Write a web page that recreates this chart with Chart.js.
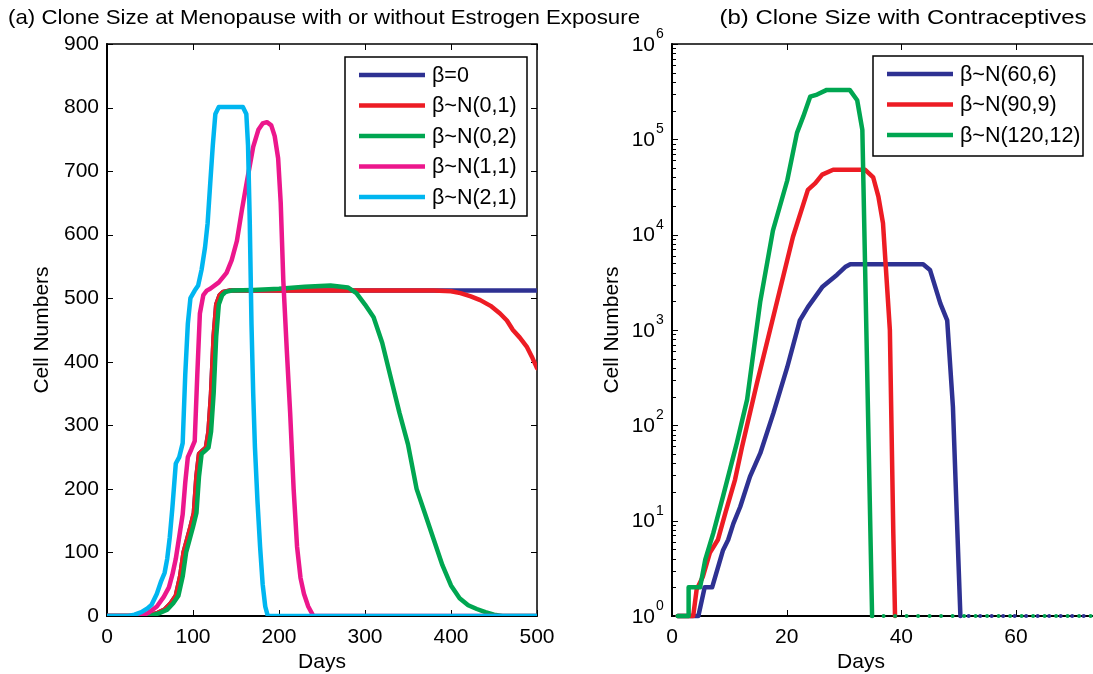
<!DOCTYPE html>
<html>
<head>
<meta charset="utf-8">
<script src="https://cdn.jsdelivr.net/npm/chart.js@4.4.1/dist/chart.umd.min.js"></script>
<style>
  html, body { margin: 0; padding: 0; background: #fff; overflow: hidden; }
  #wrap { position: relative; width: 1093px; height: 674px; overflow: hidden; }
  canvas { position: absolute; top: 0; }
  #left { left: 0; }
  #right { left: 560px; }
</style>
</head>
<body>
<div id="wrap">
  <canvas id="left" width="660" height="674"></canvas>
  <canvas id="right" width="550" height="674"></canvas>
</div>
<script>
// ---- (a) clone size at menopause ----
const menoLabels = ["β=0", "β~N(0,1)", "β~N(0,2)", "β~N(1,1)", "β~N(2,1)"];
const menoColors = ["#2e3192", "#ed1c24", "#00a651", "#ec178c", "#00b6f0"];
const menoDayTicks = [0, 100, 200, 300, 400, 500];
const menoCellTicks = [0, 100, 200, 300, 400, 500, 600, 700, 800, 900];

const daysB0 = [0, 42, 52, 59, 67, 74, 80, 85, 89, 93, 97, 101, 104, 107, 111, 115, 118, 121, 124, 127, 131, 135, 142, 500];
const cellsB0 = [0, 0, 2, 5, 10, 20, 32, 62, 100, 120, 140, 162, 220, 255, 260, 265, 290, 350, 440, 490, 505, 510, 512, 512];

const daysN01 = [0, 42, 52, 59, 67, 74, 80, 85, 89, 93, 97, 101, 104, 107, 111, 115, 118, 121, 124, 127, 131, 135, 142, 200, 300, 380, 400, 411, 423, 434, 446, 457, 465, 472, 480, 488, 494, 500];
const cellsN01 = [0, 0, 2, 5, 10, 20, 32, 62, 100, 120, 140, 162, 220, 255, 260, 265, 290, 350, 440, 490, 505, 510, 512, 512, 512, 512, 511, 508, 503, 497, 488, 476, 465, 450, 438, 424, 408, 390];

const daysN02 = [0, 45, 55, 62, 70, 77, 83, 88, 92, 96, 100, 104, 107, 110, 114, 118, 121, 124, 127, 130, 134, 138, 145, 170, 200, 230, 260, 280, 290, 300, 310, 320, 330, 340, 350, 360, 370, 380, 390, 400, 410, 420, 430, 440, 450, 460, 500];
const cellsN02 = [0, 0, 2, 5, 10, 20, 32, 62, 100, 120, 140, 162, 220, 255, 260, 265, 290, 350, 440, 490, 505, 510, 512, 513, 515, 518, 520, 517, 508, 490, 470, 430, 375, 320, 270, 200, 160, 120, 80, 48, 28, 17, 11, 6, 2, 0, 0];

const daysN11 = [0, 40, 48, 58, 66, 72, 76, 80, 84, 88, 91, 94, 98, 102, 105, 108, 112, 116, 120, 130, 139, 145, 151, 157, 163, 170, 176, 181, 186, 191, 195, 199, 202, 205, 209, 213, 217, 221, 225, 229, 234, 240, 500];
const cellsN11 = [0, 0, 5, 15, 30, 45, 65, 90, 125, 160, 210, 250, 262, 275, 380, 476, 505, 512, 515, 525, 540, 560, 590, 640, 686, 738, 765, 775, 777, 772, 755, 720, 650, 528, 420, 319, 200, 109, 60, 35, 15, 0, 0];

const daysN21 = [0, 25, 32, 40, 47, 52, 58, 63, 67, 70, 73, 76, 80, 84, 88, 91, 94, 97, 102, 106, 110, 114, 117, 120, 123, 126, 130, 158, 162, 164, 166, 168, 170, 172, 175, 178, 181, 184, 187, 500];
const cellsN21 = [0, 0, 2, 6, 12, 18, 35, 55, 68, 90, 124, 170, 240, 250, 272, 380, 460, 500, 512, 520, 545, 580, 618, 680, 740, 790, 801, 801, 790, 740, 620, 460, 350, 266, 180, 109, 50, 15, 0, 0];

// ---- (b) clone size with contraceptives ----
const contraLabels = ["β~N(60,6)", "β~N(90,9)", "β~N(120,12)"];
const contraColors = ["#2e3192", "#ed1c24", "#00a651"];
const contraDayTicks = [0, 20, 40, 60];
const contraCellTicks = [1, 10, 100, 1000, 10000, 100000, 1000000];

const daysN60 = [1, 4.6, 5.7, 7, 8.9, 9.8, 10.7, 11.9, 13.6, 15.4, 17.7, 20.1, 22.3, 23.7, 26.2, 28.8, 30.2, 31.1, 43.8, 45, 46.8, 48, 49, 50.3, 75];
const cellsN60 = [1, 1, 2, 2, 4.9, 6.3, 9.3, 14, 29, 51, 135, 407, 1260, 1740, 2820, 3800, 4570, 4900, 4900, 4270, 1900, 1260, 155, 1, 1];

const daysN90 = [1, 3.7, 4.3, 5.4, 6.6, 8, 9.3, 11, 12.2, 14.8, 17.1, 21.1, 23.7, 25, 26.2, 28.1, 33.7, 35.1, 36, 36.8, 38, 38.6, 38.9];
const cellsN90 = [1, 1, 1.9, 2.6, 4.6, 6.3, 12, 27, 59, 275, 1000, 9500, 29500, 34700, 42700, 47900, 47900, 39800, 25100, 13200, 1000, 7.4, 1];

const daysN120 = [1, 2.8, 2.9, 4.9, 5.8, 7.2, 8.9, 11.3, 13.1, 15.4, 17.6, 20.1, 21.8, 22.9, 24.1, 25.3, 27, 31, 32.3, 33.2, 34.9, 75];
const cellsN120 = [1, 1, 2, 2, 3.9, 7.4, 18, 65, 186, 2000, 11000, 37000, 117000, 174000, 280000, 295000, 330000, 330000, 257000, 126000, 1, 1];

const FONT = '"Liberation Sans", Arial, Helvetica, sans-serif';

function pts(xs, ys) {
    return xs.map((x, i) => ({ x: x, y: ys[i] }));
}

function line(ctx, x1, y1, x2, y2) {
    ctx.beginPath();
    ctx.moveTo(x1, y1);
    ctx.lineTo(x2, y2);
    ctx.stroke();
}

// matlab style box, inner ticks and titles go under the curves, the legend on top
function decorPlugin(cfg) {
    return {
        id: 'decor',
        beforeDatasetsDraw(chart) {
            const ctx = chart.ctx;
            const a = chart.chartArea;
            const x = chart.scales.x;
            const y = chart.scales.y;
            ctx.save();
            ctx.strokeStyle = '#000';
            ctx.fillStyle = '#000';

            ctx.lineWidth = 1;
            for (const v of cfg.xTicks) {
                const px = Math.round(x.getPixelForValue(v)) + 0.5;
                line(ctx, px, a.bottom, px, a.bottom - 6);
                line(ctx, px, a.top, px, a.top + 6);
            }
            for (const v of cfg.yTicks) {
                const py = Math.round(y.getPixelForValue(v)) + 0.5;
                line(ctx, a.left, py, a.left + 6, py);
                line(ctx, a.right, py, a.right - 6, py);
            }
            if (cfg.logMinor) {
                for (let i = 0; i < cfg.yTicks.length - 1; i++) {
                    for (let m = 2; m <= 9; m++) {
                        const py = Math.round(y.getPixelForValue(cfg.yTicks[i] * m)) + 0.5;
                        line(ctx, a.left, py, a.left + 4, py);
                        line(ctx, a.right, py, a.right - 4, py);
                    }
                }
                // 10^n labels
                ctx.textBaseline = 'middle';
                for (const v of cfg.yTicks) {
                    const py = y.getPixelForValue(v);
                    ctx.font = '21px ' + FONT;
                    ctx.textAlign = 'right';
                    ctx.fillText('10', a.left - 17, py + 1);
                    ctx.font = '14px ' + FONT;
                    ctx.textAlign = 'left';
                    ctx.fillText(String(Math.round(Math.log10(v))), a.left - 16, py - 10);
                }
            }

            ctx.lineWidth = 1.5;
            ctx.strokeRect(a.left, a.top, a.right - a.left, a.bottom - a.top);
            ctx.lineWidth = 2;
            line(ctx, a.left, a.top - 0.75, a.left, a.bottom + 1);
            line(ctx, a.left - 1, a.bottom, a.right + 0.75, a.bottom);

            // title, stretched a bit to the width it has in the figure
            ctx.font = '21px ' + FONT;
            ctx.textAlign = 'center';
            ctx.textBaseline = 'middle';
            const tw = ctx.measureText(cfg.title).width;
            ctx.save();
            ctx.translate(cfg.titleX, 18);
            ctx.scale(cfg.titleW / tw, 1);
            ctx.fillText(cfg.title, 0, 0);
            ctx.restore();

            ctx.fillText('Days', cfg.daysX, 662);
            ctx.save();
            ctx.translate(cfg.cellsX, (a.top + a.bottom) / 2);
            ctx.rotate(-Math.PI / 2);
            ctx.fillText('Cell Numbers', 0, 0);
            ctx.restore();
            ctx.restore();
        },
        afterDatasetsDraw(chart) {
            const ctx = chart.ctx;
            const lg = cfg.legend;
            ctx.save();
            ctx.fillStyle = '#fff';
            ctx.fillRect(lg.x, lg.y, lg.w, lg.h);
            ctx.strokeStyle = '#000';
            ctx.lineWidth = 1.5;
            ctx.strokeRect(lg.x, lg.y, lg.w, lg.h);
            ctx.textAlign = 'left';
            ctx.textBaseline = 'middle';
            ctx.font = '21.5px ' + FONT;
            cfg.labels.forEach((lab, i) => {
                const ry = lg.y + 18 + i * 30.5;
                ctx.strokeStyle = cfg.colors[i];
                ctx.lineWidth = 4.5;
                line(ctx, lg.x + 14, ry, lg.x + 80, ry);
                ctx.fillStyle = '#000';
                ctx.fillText(lab, lg.x + 87, ry + 1);
            });
            ctx.restore();
        }
    };
}

function makeSet(label, color, data, order, clip) {
    return {
        label: label,
        data: data,
        borderColor: color,
        backgroundColor: color,
        borderWidth: 4.5,
        pointRadius: 0,
        borderJoinStyle: 'round',
        borderCapStyle: 'round',
        tension: 0,
        clip: clip,
        order: order
    };
}

// ---------- chart (a) ----------
const menoSeries = [
    pts(daysB0, cellsB0), pts(daysN01, cellsN01), pts(daysN02, cellsN02),
    pts(daysN11, cellsN11), pts(daysN21, cellsN21)
];

new Chart(document.getElementById('left'), {
    type: 'line',
    data: {
        datasets: menoSeries.map((d, i) => makeSet(menoLabels[i], menoColors[i], d, 5 - i, 0))
    },
    options: {
        responsive: false,
        animation: false,
        devicePixelRatio: 1,
        layout: { padding: { left: 0, right: 123, top: 44, bottom: 0 } },
        plugins: { legend: { display: false }, tooltip: { enabled: false } },
        scales: {
            x: {
                type: 'linear', min: 0, max: 500,
                afterBuildTicks: s => { s.ticks = menoDayTicks.map(v => ({ value: v })); },
                afterFit: s => { s.height = 58; },
                grid: { display: false, drawTicks: false },
                border: { display: false },
                ticks: { color: '#000', font: { family: FONT, size: 21 }, padding: 9, maxRotation: 0 }
            },
            y: {
                type: 'linear', min: 0, max: 900,
                afterBuildTicks: s => { s.ticks = menoCellTicks.map(v => ({ value: v })); },
                afterFit: s => { s.width = 107; },
                grid: { display: false, drawTicks: false },
                border: { display: false },
                ticks: { color: '#000', font: { family: FONT, size: 21 }, padding: 8 }
            }
        }
    },
    plugins: [decorPlugin({
        xTicks: menoDayTicks, yTicks: menoCellTicks, logMinor: false,
        title: '(a) Clone Size at Menopause with or without Estrogen Exposure', titleX: 324, titleW: 632,
        daysX: 322, cellsX: 42,
        labels: menoLabels, colors: menoColors,
        legend: { x: 345, y: 57, w: 182, h: 159 }
    })]
});

// ---------- chart (b) ----------
const contraSeries = [pts(daysN60, cellsN60), pts(daysN90, cellsN90), pts(daysN120, cellsN120)];

const dotted = ctx => (ctx.p0.parsed.x > 30 && ctx.p0.parsed.y <= 1 && ctx.p1.parsed.y <= 1) ? [0, 11.5] : undefined;

new Chart(document.getElementById('right'), {
    type: 'line',
    data: {
        datasets: contraSeries.map((d, i) => {
            const s = makeSet(contraLabels[i], contraColors[i], d, 3 - i, false);
            s.segment = {
                borderDash: dotted,
                borderWidth: c => dotted(c) ? 4 : undefined,
                borderDashOffset: c => (dotted(c) && i === 0) ? 3.2 : undefined
            };
            return s;
        })
    },
    options: {
        responsive: false,
        animation: false,
        devicePixelRatio: 1,
        layout: { padding: { left: 0, right: 8, top: 44, bottom: 0 } },
        plugins: { legend: { display: false }, tooltip: { enabled: false } },
        scales: {
            x: {
                type: 'linear', min: 0, max: 75,
                afterBuildTicks: s => { s.ticks = contraDayTicks.map(v => ({ value: v })); },
                afterFit: s => { s.height = 58; },
                grid: { display: false, drawTicks: false },
                border: { display: false },
                ticks: { color: '#000', font: { family: FONT, size: 21 }, padding: 9, maxRotation: 0 }
            },
            y: {
                type: 'logarithmic', min: 1, max: 1000000,
                afterFit: s => { s.width = 112; },
                grid: { display: false, drawTicks: false },
                border: { display: false },
                ticks: { display: false }
            }
        }
    },
    plugins: [decorPlugin({
        xTicks: contraDayTicks, yTicks: contraCellTicks, logMinor: true,
        title: '(b) Clone Size with Contraceptives', titleX: 343, titleW: 367,
        daysX: 301, cellsX: 52,
        labels: contraLabels, colors: contraColors,
        legend: { x: 313, y: 56, w: 210, h: 100 }
    })]
});
</script>
</body>
</html>
